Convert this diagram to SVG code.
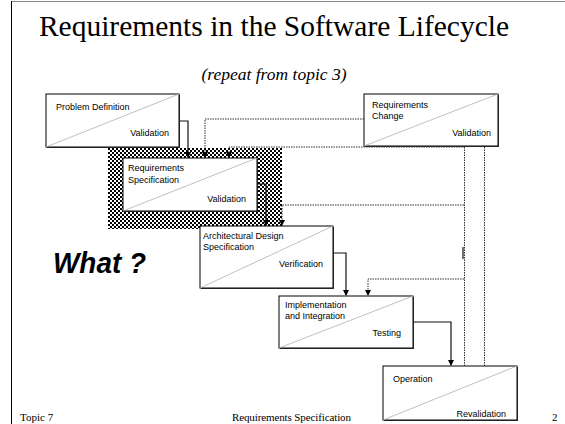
<svg xmlns="http://www.w3.org/2000/svg" width="565" height="424" viewBox="0 0 565 424">
<defs>
<pattern id="checker" x="0" y="0" width="4" height="4" patternUnits="userSpaceOnUse">
<rect width="4" height="4" fill="#fff"/>
<rect width="2" height="2" fill="#000"/>
<rect x="2" y="2" width="2" height="2" fill="#000"/>
</pattern>
<marker id="arr" markerWidth="6" markerHeight="6" refX="5" refY="3" orient="auto" markerUnits="userSpaceOnUse">
<path d="M0,0 L6,3 L0,6 z" fill="#000"/>
</marker>
</defs>
<style>
.box{fill:#fff;stroke:#000;stroke-width:1}
.shadow{fill:#444}
.diag{stroke:#b0b0b0;stroke-width:0.8;fill:none}
.lbl{font-family:"Liberation Sans",Arial,sans-serif;font-size:9px;fill:#000}
.end{text-anchor:end}
.solid{fill:none;stroke:#111;stroke-width:1.2}
.dot{fill:none;stroke:#333;stroke-width:1;stroke-dasharray:1.5,1}
.foot{font-family:"Liberation Serif","Times New Roman",serif;font-size:11px;fill:#000}
</style>
<rect width="565" height="424" fill="#fff"/>
<line x1="11" y1="1.5" x2="565" y2="1.5" stroke="#888" stroke-width="1"/>
<line x1="11.5" y1="1" x2="11.5" y2="424" stroke="#000" stroke-width="1"/>
<text x="274" y="36" text-anchor="middle" font-family="'Liberation Serif','Times New Roman',serif" font-size="29.5">Requirements in the Software Lifecycle</text>
<text x="274" y="80" text-anchor="middle" font-family="'Liberation Serif','Times New Roman',serif" font-size="17.5" font-style="italic">(repeat from topic 3)</text>
<text x="53" y="273" font-family="'Liberation Sans',Arial,sans-serif" font-size="30" font-weight="bold" font-style="italic" textLength="93" lengthAdjust="spacingAndGlyphs">What ?</text>

<rect id="highlight" x="108" y="148" width="174" height="81" fill="url(#checker)"/>

<g id="problem-definition">
<rect class="shadow" x="47" y="95" width="133" height="53"/>
<rect class="box" x="46" y="94" width="133" height="53"/>
<line class="diag" x1="46" y1="147" x2="179" y2="94"/>
<text class="lbl" x="56" y="110">Problem Definition</text>
<text class="lbl end" x="169" y="136">Validation</text>
</g>
<g id="requirements-change">
<rect class="shadow" x="365" y="95" width="134" height="52"/>
<rect class="box" x="364" y="94" width="134" height="52"/>
<line class="diag" x1="364" y1="146" x2="498" y2="94"/>
<text class="lbl" x="372" y="108">Requirements</text>
<text class="lbl" x="372" y="119">Change</text>
<text class="lbl end" x="491" y="136">Validation</text>
</g>
<g id="requirements-specification">
<rect class="shadow" x="124" y="159" width="134" height="53"/>
<rect class="box" x="123" y="158" width="134" height="53"/>
<line class="diag" x1="123" y1="211" x2="257" y2="158"/>
<text class="lbl" x="128" y="171">Requirements</text>
<text class="lbl" x="128" y="183">Specification</text>
<text class="lbl end" x="246" y="202">Validation</text>
</g>
<g id="architectural-design">
<rect class="shadow" x="201" y="227" width="133" height="62"/>
<rect class="box" x="200" y="226" width="133" height="62"/>
<line class="diag" x1="200" y1="288" x2="333" y2="226"/>
<text class="lbl" x="203" y="239">Architectural Design</text>
<text class="lbl" x="203" y="250">Specification</text>
<text class="lbl end" x="323" y="267">Verification</text>
</g>
<g id="implementation">
<rect class="shadow" x="280" y="297" width="134" height="52"/>
<rect class="box" x="279" y="296" width="134" height="52"/>
<line class="diag" x1="279" y1="348" x2="413" y2="296"/>
<text class="lbl" x="285" y="308">Implementation</text>
<text class="lbl" x="285" y="319">and Integration</text>
<text class="lbl end" x="401" y="336">Testing</text>
</g>
<g id="operation">
<rect class="shadow" x="384" y="367" width="134" height="54"/>
<rect class="box" x="383" y="366" width="134" height="54"/>
<line class="diag" x1="383" y1="420" x2="517" y2="366"/>
<text class="lbl" x="393" y="382">Operation</text>
<text class="lbl end" x="506" y="417">Revalidation</text>
</g>

<g id="connectors">
<path class="solid" d="M180,121 H188 V157" marker-end="url(#arr)"/>
<path class="dot" d="M364,119 H205 V157" marker-end="url(#arr)"/>
<path class="dot" d="M465,147 H229 V157" marker-end="url(#arr)"/>
<path class="solid" d="M258,184 H266 V225" marker-end="url(#arr)"/>
<path class="dot" d="M464,205 H282 V225" marker-end="url(#arr)"/>
<path class="solid" d="M334,253 H346 V295" marker-end="url(#arr)"/>
<path class="dot" d="M464,279 H368 V295" marker-end="url(#arr)"/>
<path class="solid" d="M414,322 H451 V365" marker-end="url(#arr)"/>
<path class="dot" d="M464.5,147 V366"/>
<path class="dot" d="M484.5,147 V366"/>
<path class="solid" d="M463,247 V259"/>
</g>

<text class="foot" x="20" y="421">Topic 7</text>
<text class="foot" x="232" y="421" textLength="119">Requirements Specification</text>
<text class="foot" x="552" y="421">2</text>
</svg>
